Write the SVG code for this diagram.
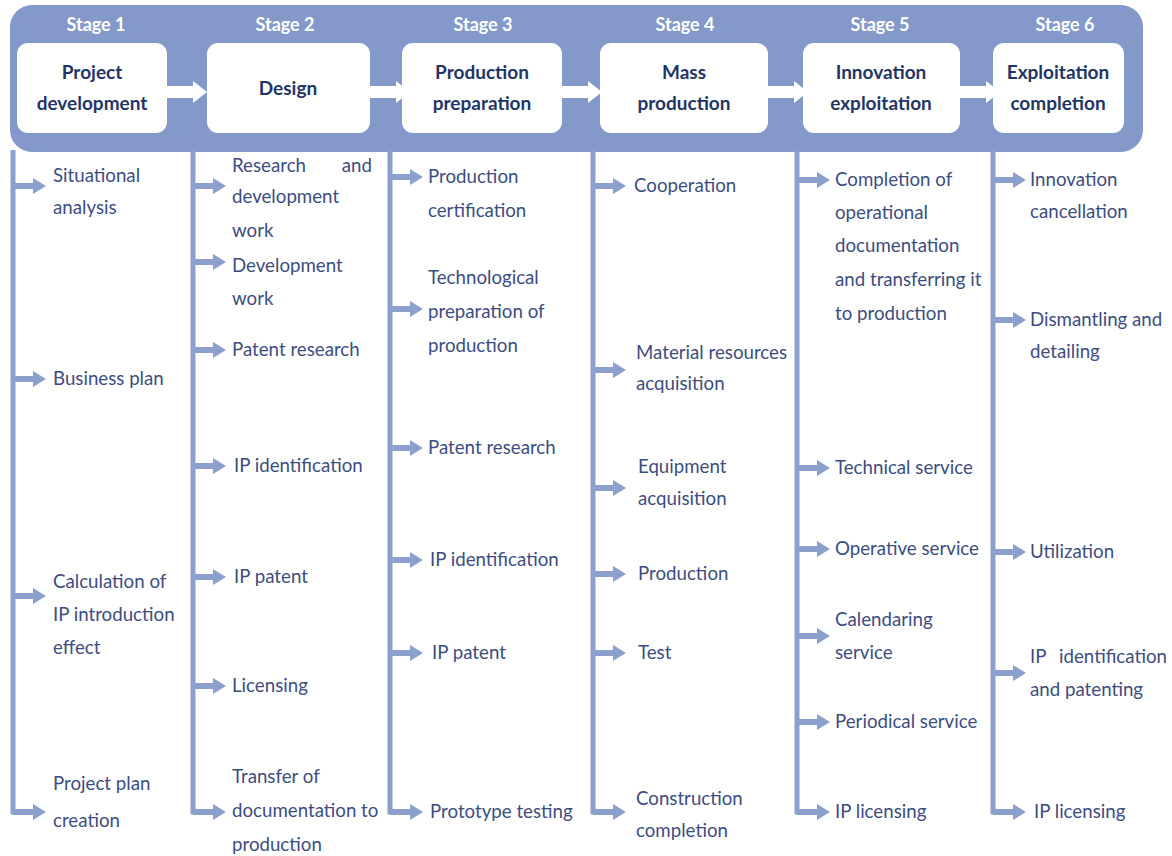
<svg xmlns="http://www.w3.org/2000/svg" xmlns:xlink="http://www.w3.org/1999/xlink" width="1172" height="856" viewBox="0 0 1172 856">
  <style>
    .band { fill: #8299ca; }
    .box { fill: #ffffff; }
    .stage { font-family: Lato, "Liberation Sans", sans-serif; font-size: 18px; font-weight: bold; fill: #ffffff; text-anchor: middle; }
    .title { font-family: Lato, "Liberation Sans", sans-serif; font-size: 19px; font-weight: bold; fill: #1f3566; text-anchor: middle; }
    .item { font-family: Lato, "Liberation Sans", sans-serif; font-size: 18.7px; fill: #3d4d80; }
    .spine { stroke: #8ca0cd; stroke-width: 5; fill: none; }
    .tip { fill: #8ca0cd; }
    .flow { fill: #ffffff; }
  </style>
  <defs>
    <!-- small branch arrow, origin at its tail, pointing right -->
    <path id="branch" class="tip" d="M0,-3 H20 V-8 L33,0 L20,8 V3 H0 Z"/>
    <!-- white block arrow between stage boxes -->
    <path id="flowArrow" class="flow" d="M0,-6 H26 V-11 L40,0 L26,11 V6 H0 Z"/>
  </defs>

  <rect width="1172" height="856" fill="#ffffff"/>

  <!-- header band -->
  <rect class="band" x="10" y="5" width="1133" height="147" rx="22" ry="22"/>

  <!-- stage headers -->
  <g id="stage1">
    <text class="stage" x="96" y="31">Stage 1</text>
    <rect class="box" x="17" y="43" width="150" height="90" rx="11"/>
    <text class="title" x="92" y="79">Project</text>
    <text class="title" x="92" y="110">development</text>
  </g>
  <g id="stage2">
    <text class="stage" x="285" y="31">Stage 2</text>
    <rect class="box" x="207" y="43" width="163" height="90" rx="11"/>
    <text class="title" x="288" y="95">Design</text>
  </g>
  <g id="stage3">
    <text class="stage" x="483" y="31">Stage 3</text>
    <rect class="box" x="402" y="43" width="160" height="90" rx="11"/>
    <text class="title" x="482" y="79">Production</text>
    <text class="title" x="482" y="110">preparation</text>
  </g>
  <g id="stage4">
    <text class="stage" x="685" y="31">Stage 4</text>
    <rect class="box" x="600" y="43" width="168" height="90" rx="11"/>
    <text class="title" x="684" y="79">Mass</text>
    <text class="title" x="684" y="110">production</text>
  </g>
  <g id="stage5">
    <text class="stage" x="880" y="31">Stage 5</text>
    <rect class="box" x="803" y="43" width="157" height="90" rx="11"/>
    <text class="title" x="881" y="79">Innovation</text>
    <text class="title" x="881" y="110">exploitation</text>
  </g>
  <g id="stage6">
    <text class="stage" x="1065" y="31">Stage 6</text>
    <rect class="box" x="993" y="43" width="131" height="90" rx="11"/>
    <text class="title" x="1058" y="79">Exploitation</text>
    <text class="title" x="1058" y="110">completion</text>
  </g>

  <!-- connectors: flow arrows and column spines -->
  <g id="connectors">
    <use xlink:href="#flowArrow" x="167" y="92"/>
    <use xlink:href="#flowArrow" x="370" y="92"/>
    <use xlink:href="#flowArrow" x="562" y="92"/>
    <use xlink:href="#flowArrow" x="768" y="92"/>
    <use xlink:href="#flowArrow" x="960" y="92"/>

    <path class="spine" d="M13,150 V812 H16"/>
    <path class="spine" d="M193,150 V812 H196"/>
    <path class="spine" d="M390,150 V812 H393"/>
    <path class="spine" d="M593,150 V812 H596"/>
    <path class="spine" d="M797,150 V812 H800"/>
    <path class="spine" d="M993,150 V812 H996"/>

    <!-- column 1 -->
    <use xlink:href="#branch" x="13" y="186"/>
    <use xlink:href="#branch" x="13" y="379"/>
    <use xlink:href="#branch" x="13" y="596"/>
    <use xlink:href="#branch" x="13" y="812"/>
    <!-- column 2 -->
    <use xlink:href="#branch" x="193" y="186"/>
    <use xlink:href="#branch" x="193" y="262"/>
    <use xlink:href="#branch" x="193" y="350"/>
    <use xlink:href="#branch" x="193" y="466"/>
    <use xlink:href="#branch" x="193" y="577"/>
    <use xlink:href="#branch" x="193" y="686"/>
    <use xlink:href="#branch" x="193" y="812"/>
    <!-- column 3 -->
    <use xlink:href="#branch" x="390" y="177"/>
    <use xlink:href="#branch" x="390" y="309"/>
    <use xlink:href="#branch" x="390" y="448"/>
    <use xlink:href="#branch" x="390" y="560"/>
    <use xlink:href="#branch" x="390" y="653"/>
    <use xlink:href="#branch" x="390" y="812"/>
    <!-- column 4 -->
    <use xlink:href="#branch" x="593" y="186"/>
    <use xlink:href="#branch" x="593" y="370"/>
    <use xlink:href="#branch" x="593" y="488"/>
    <use xlink:href="#branch" x="593" y="574"/>
    <use xlink:href="#branch" x="593" y="653"/>
    <use xlink:href="#branch" x="593" y="812"/>
    <!-- column 5 -->
    <use xlink:href="#branch" x="797" y="180"/>
    <use xlink:href="#branch" x="797" y="468"/>
    <use xlink:href="#branch" x="797" y="549"/>
    <use xlink:href="#branch" x="797" y="636"/>
    <use xlink:href="#branch" x="797" y="722"/>
    <use xlink:href="#branch" x="797" y="812"/>
    <!-- column 6 -->
    <use xlink:href="#branch" x="993" y="180"/>
    <use xlink:href="#branch" x="993" y="320"/>
    <use xlink:href="#branch" x="993" y="552"/>
    <use xlink:href="#branch" x="993" y="673"/>
    <use xlink:href="#branch" x="993" y="812"/>
  </g>

  <!-- column 1 items -->
  <g id="s1-situational"><text class="item" x="53" y="182">Situational</text><text class="item" x="53" y="214">analysis</text></g>
  <g id="s1-business"><text class="item" x="53" y="385">Business plan</text></g>
  <g id="s1-calculation"><text class="item" x="53" y="588">Calculation of</text><text class="item" x="53" y="621">IP introduction</text><text class="item" x="53" y="654">effect</text></g>
  <g id="s1-plan"><text class="item" x="53" y="790">Project plan</text><text class="item" x="53" y="827">creation</text></g>

  <!-- column 2 items -->
  <g id="s2-rnd"><text class="item" x="232" y="172">Research</text><text class="item" x="372" y="172" text-anchor="end">and</text><text class="item" x="232" y="203">development</text><text class="item" x="232" y="237">work</text></g>
  <g id="s2-dev"><text class="item" x="232" y="272">Development</text><text class="item" x="232" y="305">work</text></g>
  <g id="s2-patent"><text class="item" x="232" y="356">Patent research</text></g>
  <g id="s2-ipid"><text class="item" x="234" y="472">IP identification</text></g>
  <g id="s2-ippat"><text class="item" x="234" y="583">IP patent</text></g>
  <g id="s2-lic"><text class="item" x="232" y="692">Licensing</text></g>
  <g id="s2-transfer"><text class="item" x="232" y="783">Transfer of</text><text class="item" x="232" y="817">documentation to</text><text class="item" x="232" y="851">production</text></g>

  <!-- column 3 items -->
  <g id="s3-cert"><text class="item" x="428" y="183">Production</text><text class="item" x="428" y="217">certification</text></g>
  <g id="s3-tech"><text class="item" x="428" y="284">Technological</text><text class="item" x="428" y="318">preparation of</text><text class="item" x="428" y="352">production</text></g>
  <g id="s3-patent"><text class="item" x="428" y="454">Patent research</text></g>
  <g id="s3-ipid"><text class="item" x="430" y="566">IP identification</text></g>
  <g id="s3-ippat"><text class="item" x="432" y="659">IP patent</text></g>
  <g id="s3-proto"><text class="item" x="430" y="818">Prototype testing</text></g>

  <!-- column 4 items -->
  <g id="s4-coop"><text class="item" x="634" y="192">Cooperation</text></g>
  <g id="s4-material"><text class="item" x="636" y="359">Material resources</text><text class="item" x="636" y="390">acquisition</text></g>
  <g id="s4-equip"><text class="item" x="638" y="473">Equipment</text><text class="item" x="638" y="505">acquisition</text></g>
  <g id="s4-prod"><text class="item" x="638" y="580">Production</text></g>
  <g id="s4-test"><text class="item" x="638" y="659">Test</text></g>
  <g id="s4-constr"><text class="item" x="636" y="805">Construction</text><text class="item" x="636" y="837">completion</text></g>

  <!-- column 5 items -->
  <g id="s5-docs"><text class="item" x="835" y="186">Completion of</text><text class="item" x="835" y="219">operational</text><text class="item" x="835" y="252">documentation</text><text class="item" x="835" y="286">and transferring it</text><text class="item" x="835" y="320">to production</text></g>
  <g id="s5-tech"><text class="item" x="835" y="474">Technical service</text></g>
  <g id="s5-oper"><text class="item" x="835" y="555">Operative service</text></g>
  <g id="s5-cal"><text class="item" x="835" y="626">Calendaring</text><text class="item" x="835" y="659">service</text></g>
  <g id="s5-period"><text class="item" x="835" y="728">Periodical service</text></g>
  <g id="s5-lic"><text class="item" x="835" y="818">IP licensing</text></g>

  <!-- column 6 items -->
  <g id="s6-cancel"><text class="item" x="1030" y="186">Innovation</text><text class="item" x="1030" y="218">cancellation</text></g>
  <g id="s6-dismantle"><text class="item" x="1030" y="326">Dismantling and</text><text class="item" x="1030" y="358">detailing</text></g>
  <g id="s6-util"><text class="item" x="1030" y="558">Utilization</text></g>
  <g id="s6-ipid"><text class="item" x="1030" y="663">IP</text><text class="item" x="1167" y="663" text-anchor="end">identification</text><text class="item" x="1030" y="696">and patenting</text></g>
  <g id="s6-lic"><text class="item" x="1034" y="818">IP licensing</text></g>
</svg>
